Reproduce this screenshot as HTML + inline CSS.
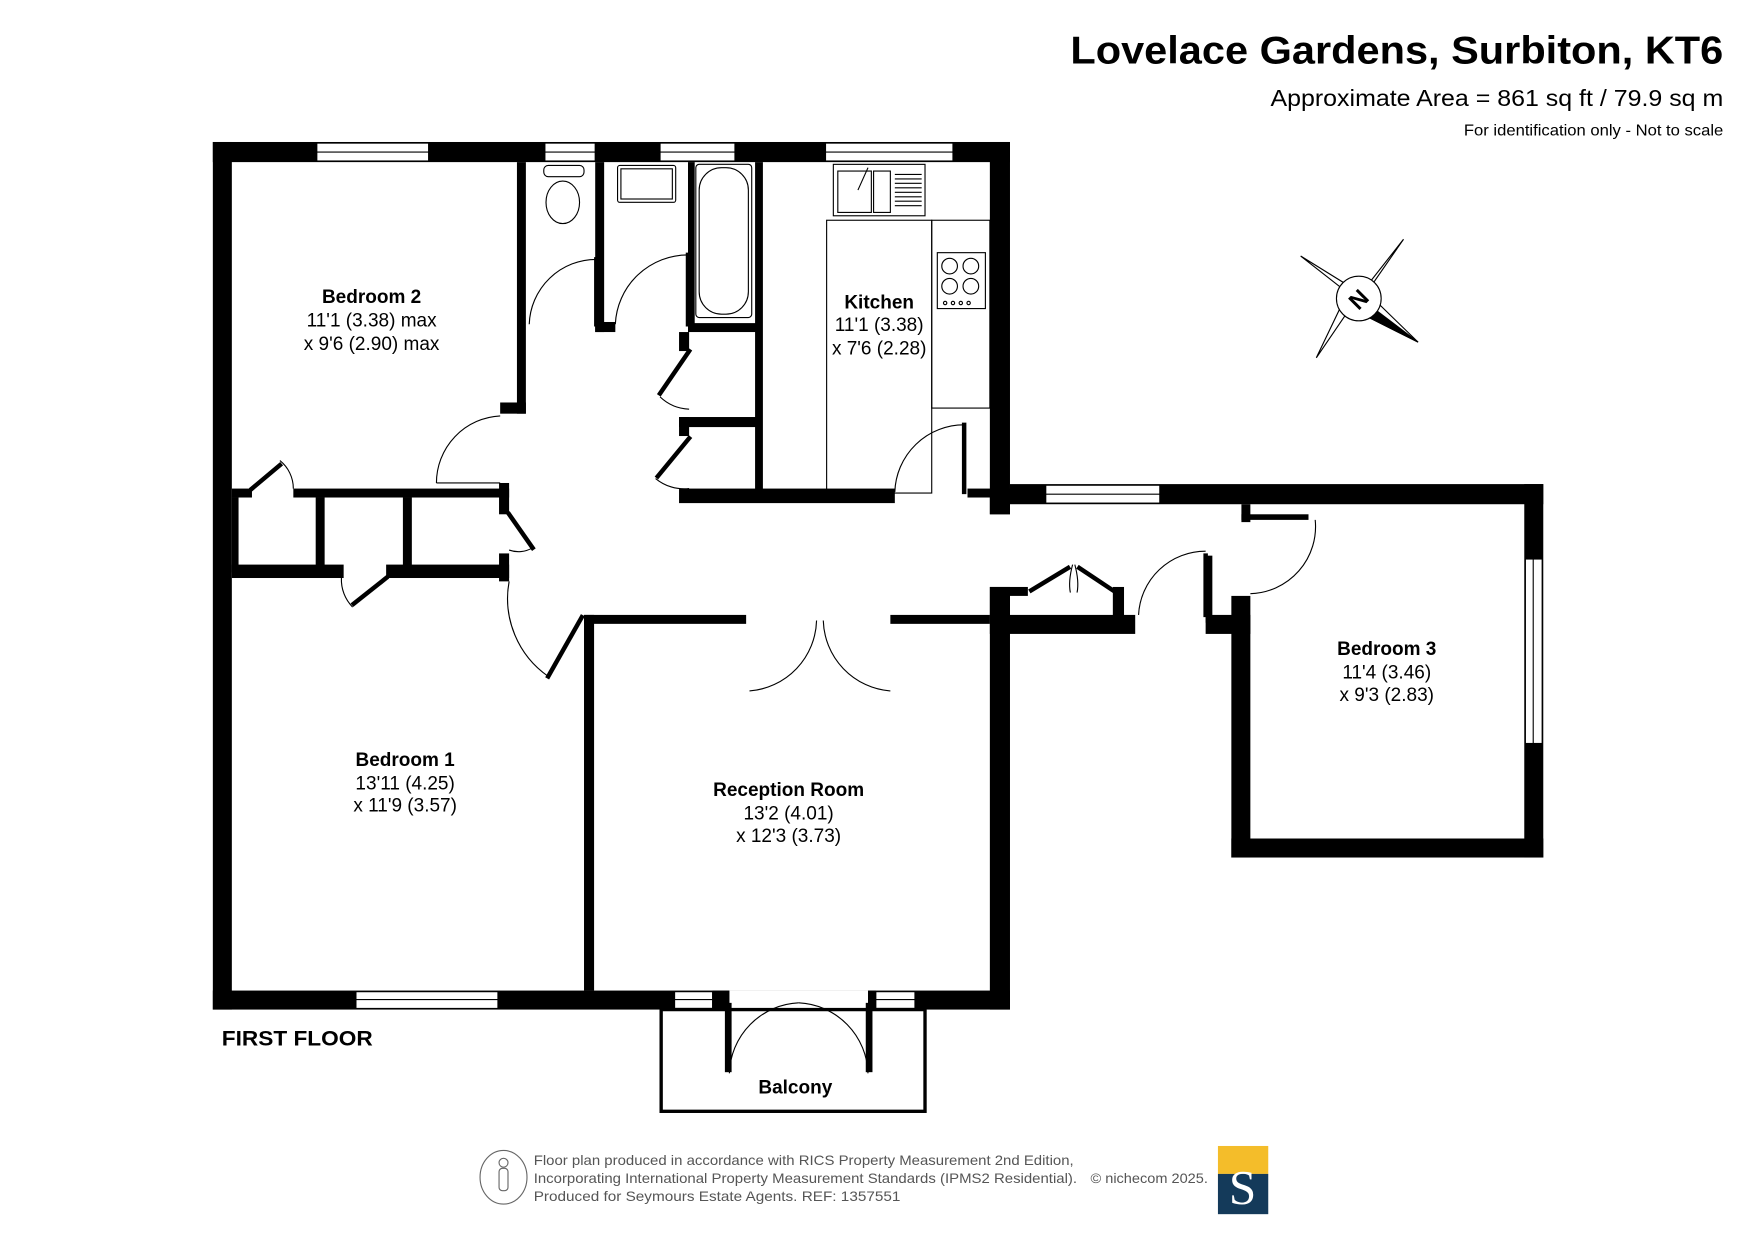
<!DOCTYPE html>
<html><head><meta charset="utf-8"><style>
html,body{margin:0;padding:0;background:#fff;}
svg{display:block;}
text{font-family:"Liberation Sans",Arial,sans-serif;}
</style></head><body>
<svg width="1755" height="1241" viewBox="0 0 1569 1110" xmlns="http://www.w3.org/2000/svg">
<rect width="1569" height="1110" fill="#fff"/>
<!-- titles -->
<text x="957" y="57" font-size="35" font-weight="bold" textLength="584" lengthAdjust="spacingAndGlyphs">Lovelace Gardens, Surbiton, KT6</text>
<text x="1136" y="95" font-size="21" textLength="405" lengthAdjust="spacingAndGlyphs">Approximate Area = 861 sq ft / 79.9 sq m</text>
<text x="1309" y="121" font-size="14" textLength="232" lengthAdjust="spacingAndGlyphs">For identification only - Not to scale</text>

<!-- fixtures -->
<g fill="#fff" stroke="#000" stroke-width="1">
<rect x="486" y="148" width="36" height="10" rx="4"/>
<ellipse cx="503" cy="181" rx="15" ry="19"/>
<rect x="552" y="148" width="52" height="33" rx="2"/>
<rect x="555" y="151" width="46" height="27"/>
<rect x="622" y="147" width="50" height="137" rx="3"/>
<rect x="625" y="150" width="44" height="131" rx="20"/>
<rect x="745" y="147" width="82" height="46"/>
<rect x="749" y="153" width="30" height="37"/>
<rect x="781" y="153" width="15" height="37"/>
<rect x="739" y="197" width="94" height="244" fill="none"/>
<rect x="833" y="197" width="52" height="168" fill="none"/>
<rect x="838" y="226" width="43" height="50"/>
</g>
<g stroke="#000" stroke-width="1">
<line x1="800" y1="156" x2="824" y2="156"/><line x1="800" y1="160" x2="824" y2="160"/><line x1="800" y1="164" x2="824" y2="164"/>
<line x1="800" y1="168" x2="824" y2="168"/><line x1="800" y1="172" x2="824" y2="172"/><line x1="800" y1="176" x2="824" y2="176"/>
<line x1="800" y1="180" x2="824" y2="180"/><line x1="800" y1="184" x2="824" y2="184"/>
<line x1="767" y1="170" x2="776" y2="150"/>
</g>
<g fill="none" stroke="#000" stroke-width="1">
<circle cx="849" cy="238" r="7"/><circle cx="868" cy="238" r="7"/>
<circle cx="849" cy="256" r="7"/><circle cx="868" cy="256" r="7"/>
<circle cx="845" cy="271" r="1.5"/><circle cx="852" cy="271" r="1.5"/><circle cx="859" cy="271" r="1.5"/><circle cx="866" cy="271" r="1.5"/>
</g>

<g fill="#000">
<!-- outer walls main -->
<rect x="190" y="127" width="713" height="18"/>
<rect x="190" y="127" width="17" height="776"/>
<rect x="190" y="886" width="713" height="17"/>
<rect x="885" y="127" width="18" height="333"/>
<rect x="885" y="525" width="18" height="378"/>
<!-- hallway top & bedroom3 -->
<rect x="903" y="433" width="477" height="18"/>
<rect x="1363" y="433" width="17" height="334"/>
<rect x="1101" y="750" width="279" height="17"/>
<rect x="1101" y="533" width="17" height="234"/>
<rect x="1078" y="550" width="40" height="17"/>
<rect x="1078" y="497" width="6" height="60"/>
<rect x="1110" y="451" width="8" height="16"/>
<rect x="1110" y="460" width="60" height="5"/>
<!-- hallway bottom right -->
<rect x="885" y="550" width="130" height="17"/>
<rect x="885" y="525" width="18" height="30"/>
<rect x="903" y="525" width="16" height="8"/>
<rect x="995" y="525" width="10" height="27"/>
<!-- bedroom2 right wall -->
<rect x="462" y="145" width="8" height="225"/>
<rect x="447" y="360" width="23" height="10"/>
<!-- wc/bath walls -->
<rect x="532" y="145" width="8" height="152"/>
<rect x="532" y="288" width="18" height="9"/>
<rect x="615" y="145" width="6" height="150"/>
<rect x="615" y="289" width="65" height="8"/>
<rect x="675" y="145" width="7" height="300"/>
<rect x="607" y="297" width="9" height="17"/>
<rect x="607" y="373" width="73" height="9"/>
<rect x="607" y="373" width="9" height="17"/>
<rect x="607" y="437" width="193" height="13"/>
<rect x="865" y="437" width="38" height="8"/>
<rect x="885" y="440" width="18" height="20"/>
<!-- bedroom2 bottom / cupboards -->
<rect x="207" y="437" width="18" height="8"/>
<rect x="262" y="437" width="193" height="8"/>
<rect x="446" y="432" width="9" height="28"/>
<rect x="207" y="505" width="100" height="12"/>
<rect x="345" y="505" width="110" height="12"/>
<rect x="282" y="445" width="8" height="67"/>
<rect x="360" y="445" width="8" height="67"/>
<rect x="207" y="445" width="6" height="67"/>
<rect x="446" y="495" width="9" height="25"/>
<!-- bedroom1 right / reception -->
<rect x="522" y="550" width="9" height="336"/>
<rect x="522" y="550" width="145" height="8"/>
<rect x="796" y="550" width="89" height="8"/>
</g>
<!-- windows -->
<g fill="#fff" stroke="#000" stroke-width="1">
<rect x="283" y="128" width="100" height="16"/>
<rect x="487" y="128" width="45" height="16"/>
<rect x="590" y="128" width="67" height="16"/>
<rect x="738" y="128" width="114" height="16"/>
<rect x="935" y="434" width="102" height="16"/>
<rect x="1364" y="500" width="15" height="165"/>
<rect x="318" y="887" width="127" height="15"/>
<rect x="603" y="887" width="34" height="15"/>
<rect x="783" y="887" width="35" height="15"/>
</g>
<g stroke="#000" stroke-width="1">
<line x1="283" y1="136" x2="383" y2="136"/><line x1="487" y1="136" x2="532" y2="136"/>
<line x1="590" y1="136" x2="657" y2="136"/><line x1="738" y1="136" x2="852" y2="136"/>
<line x1="935" y1="442" x2="1037" y2="442"/><line x1="1371" y1="500" x2="1371" y2="665"/>
<line x1="318" y1="894" x2="445" y2="894"/><line x1="603" y1="894" x2="637" y2="894"/><line x1="783" y1="894" x2="818" y2="894"/>
</g>
<rect x="652" y="886" width="124" height="17" fill="#fff"/>
<rect x="637" y="886" width="15" height="17" fill="#000"/>
<rect x="776" y="886" width="7" height="17" fill="#000"/>
<!-- balcony -->
<rect x="591" y="903" width="236" height="91" fill="none" stroke="#000" stroke-width="3"/>
<rect x="648" y="897" width="6" height="62" fill="#000"/>
<rect x="774" y="897" width="6" height="62" fill="#000"/>

<!-- doors -->
<g fill="none" stroke="#000" stroke-width="1">
<path d="M473 290 A60 60 0 0 1 533 232"/>
<path d="M550 290 A65 65 0 0 1 615 228"/>
<path d="M390 432 A60 60 0 0 1 447 372"/>
<path d="M590 355 A40 40 0 0 0 616 366"/>
<path d="M586 428 A40 40 0 0 0 616 437"/>
<path d="M800 440 A62 62 0 0 1 862 380"/>
<path d="M262 437 A32 32 0 0 0 250 412"/>
<path d="M455 492 A25 25 0 0 0 476 490"/>
<path d="M305 517 A35 35 0 0 0 315 543"/>
<path d="M455 520 A85 85 0 0 0 490 605"/>
<path d="M670 618 A65 65 0 0 0 730 555"/>
<path d="M796 618 A65 65 0 0 1 736 555"/>
<path d="M652 960 A65 65 0 0 1 714 897"/>
<path d="M776 960 A65 65 0 0 0 714 897"/>
<path d="M1018 550 A60 60 0 0 1 1078 493"/>
<path d="M1118 531 A60 60 0 0 0 1176 465"/>
<path d="M959 505 Q955 520 957 530"/><path d="M961 505 Q965 520 963 530"/>
<line x1="390" y1="432" x2="447" y2="432"/>
</g>
<g stroke="#000" stroke-width="4" stroke-linecap="square">
<line x1="533" y1="232" x2="533" y2="290"/>
<line x1="615" y1="228" x2="615" y2="290"/>
<line x1="616" y1="314" x2="590" y2="352"/>
<line x1="616" y1="392" x2="588" y2="426"/>
<line x1="862" y1="380" x2="862" y2="440"/>
<line x1="225" y1="437" x2="250" y2="416"/>
<line x1="455" y1="460" x2="476" y2="490"/>
<line x1="345" y1="517" x2="316" y2="540"/>
<line x1="520" y1="552" x2="490" y2="605"/>
<line x1="922" y1="528" x2="955" y2="508"/>
<line x1="965" y1="508" x2="995" y2="528"/>
<line x1="1078" y1="497" x2="1078" y2="550"/>
</g>

<!-- compass -->
<g stroke="#000" stroke-width="1" fill="#fff">
<polygon points="1163,229 1200,258 1214,265 1205,255"/>
<polygon points="1255,214 1222,256 1214,265 1228,253"/>
<polygon points="1177,320 1207,276 1214,265 1200,272"/>
<polygon points="1214,265 1231,270 1268,306 1224,284"/>
<polygon points="1214,265 1224,284 1268,306" fill="#000"/>
<circle cx="1215" cy="267" r="20"/>
</g>
<text x="1215" y="275" text-anchor="middle" font-size="21" font-weight="bold" transform="rotate(-45 1215 268)">N</text>

<!-- labels -->
<g text-anchor="middle" font-size="17">
<text x="332" y="271" font-weight="bold">Bedroom 2</text>
<text x="332" y="292">11'1 (3.38) max</text>
<text x="332" y="313">x 9'6 (2.90) max</text>
<text x="786" y="276" font-weight="bold">Kitchen</text>
<text x="786" y="296">11'1 (3.38)</text>
<text x="786" y="317">x 7'6 (2.28)</text>
<text x="1240" y="586" font-weight="bold">Bedroom 3</text>
<text x="1240" y="607">11'4 (3.46)</text>
<text x="1240" y="627">x 9'3 (2.83)</text>
<text x="362" y="685" font-weight="bold">Bedroom 1</text>
<text x="362" y="706">13'11 (4.25)</text>
<text x="362" y="726">x 11'9 (3.57)</text>
<text x="705" y="712" font-weight="bold">Reception Room</text>
<text x="705" y="733">13'2 (4.01)</text>
<text x="705" y="753">x 12'3 (3.73)</text>
<text x="711" y="978" font-weight="bold">Balcony</text>
</g>
<text x="198" y="935" font-size="19" font-weight="bold" textLength="135" lengthAdjust="spacingAndGlyphs">FIRST FLOOR</text>

<!-- footer -->
<ellipse cx="450" cy="1053" rx="21" ry="24" fill="none" stroke="#666" stroke-width="1"/>
<circle cx="450" cy="1040" r="4" fill="none" stroke="#666"/>
<rect x="446" y="1045" width="8" height="20" rx="3" fill="none" stroke="#666"/>
<g font-size="12.5" fill="#555">
<text x="477" y="1042" textLength="483" lengthAdjust="spacingAndGlyphs">Floor plan produced in accordance with RICS Property Measurement 2nd Edition,</text>
<text x="477" y="1058" textLength="486" lengthAdjust="spacingAndGlyphs">Incorporating International Property Measurement Standards (IPMS2 Residential).</text>
<text x="477" y="1074" textLength="328" lengthAdjust="spacingAndGlyphs">Produced for Seymours Estate Agents.   REF: 1357551</text>
<text x="975" y="1058" textLength="105" lengthAdjust="spacingAndGlyphs">© nichecom 2025.</text>
</g>
<rect x="1089" y="1025" width="45" height="25" fill="#f4bd2a"/>
<rect x="1089" y="1050" width="45" height="36" fill="#143a5a"/>
<text x="1111" y="1077" text-anchor="middle" font-size="44" fill="#fff" style="font-family:'Liberation Serif',serif">S</text>
</svg>
</body></html>
